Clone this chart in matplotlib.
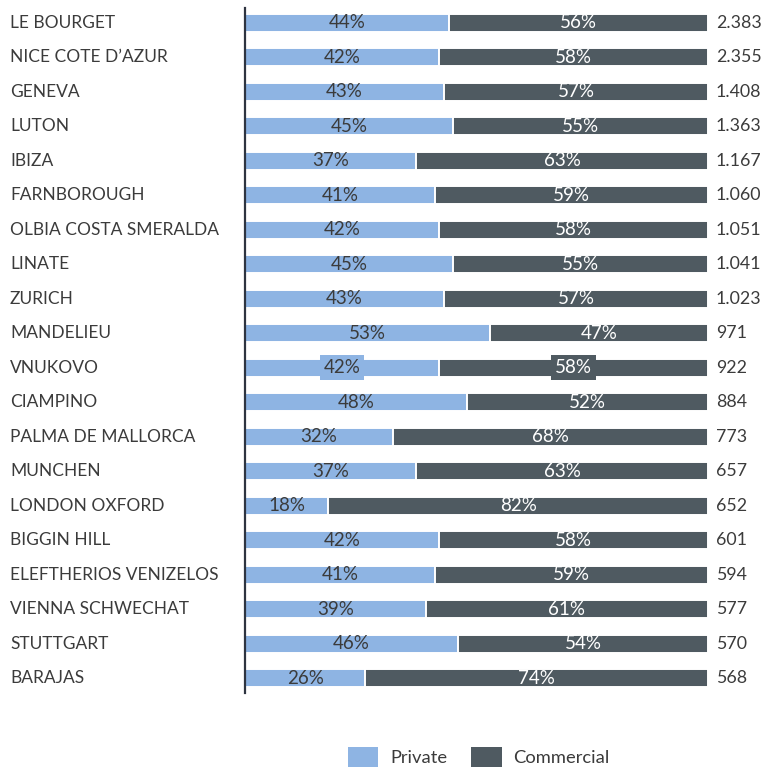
import matplotlib
matplotlib.use("Agg")
import matplotlib.pyplot as plt
from matplotlib.patches import Patch
import matplotlib.transforms as mtransforms

airports = ["LE BOURGET", "NICE COTE D\u2019AZUR", "GENEVA", "LUTON", "IBIZA", "FARNBOROUGH",
            "OLBIA COSTA SMERALDA", "LINATE", "ZURICH", "MANDELIEU", "VNUKOVO", "CIAMPINO",
            "PALMA DE MALLORCA", "MUNCHEN", "LONDON OXFORD", "BIGGIN HILL",
            "ELEFTHERIOS VENIZELOS", "VIENNA SCHWECHAT", "STUTTGART", "BARAJAS"]
private = [44, 42, 43, 45, 37, 41, 42, 45, 43, 53, 42, 48, 32, 37, 18, 42, 41, 39, 46, 26]
commercial = [56, 58, 57, 55, 63, 59, 58, 55, 57, 47, 58, 52, 68, 63, 82, 58, 59, 61, 54, 74]
totals = ["2.383", "2.355", "1.408", "1.363", "1.167", "1.060", "1.051", "1.041", "1.023", "971",
          "922", "884", "773", "657", "652", "601", "594", "577", "570", "568"]

plt.rcParams['font.family'] = ['Lato', 'DejaVu Sans']
C_PRIV = "#8EB4E3"
C_COM = "#4F5A61"
TXT = "#3B3B3B"

fig = plt.figure(figsize=(7.69, 7.68), dpi=100)
ax = fig.add_axes([245/769, 1-693/768, (708-245)/769, (693-8)/768])

y = list(range(len(airports)))
h = 0.52
ax.barh(y, private, height=h, color=C_PRIV, edgecolor="white", linewidth=1.4)
ax.barh(y, commercial, left=private, height=h, color=C_COM, edgecolor="white", linewidth=1.4)

ax.set_xlim(0, 100)
ax.set_ylim(19.43, -0.43)
ax.axis("off")
ax.plot([0, 0], [19.43, -0.43], color="#2E3440", lw=1.6, clip_on=False,
        transform=ax.transData)

fs_name = 12.5
fs_bar = 13.5
fs_tot = 12.8
trans_lab = mtransforms.blended_transform_factory(fig.transFigure, ax.transData)
for i, name in enumerate(airports):
    fig.text(10/769, i, name, transform=trans_lab, ha="left", va="center",
             fontsize=fs_name, color=TXT)
    ax.text(716/769, i, totals[i], transform=trans_lab, ha="left", va="center",
            fontsize=fs_tot, color=TXT)
    p, c = private[i], commercial[i]
    kw_p = dict(ha="center", va="center", fontsize=fs_bar, color=TXT)
    kw_c = dict(ha="center", va="center", fontsize=fs_bar, color="white")
    if name == "VNUKOVO":
        kw_p["bbox"] = dict(boxstyle="square,pad=0.2", fc=C_PRIV, ec="none")
        kw_c["bbox"] = dict(boxstyle="square,pad=0.2", fc=C_COM, ec="none")
    ax.text(p/2, i, f"{p}%", **kw_p)
    ax.text(p + c/2, i, f"{c}%", **kw_c)

handles = [Patch(facecolor=C_PRIV, edgecolor="none", label="Private"),
           Patch(facecolor=C_COM, edgecolor="none", label="Commercial")]
fig.legend(handles=handles, loc="center", bbox_to_anchor=(479/769, 1-757/768), ncol=2,
           frameon=False, fontsize=13.2, handlelength=1.65, handleheight=1.3,
           columnspacing=1.3, handletextpad=0.65, labelcolor=TXT)

fig.savefig("out.png", dpi=100)
